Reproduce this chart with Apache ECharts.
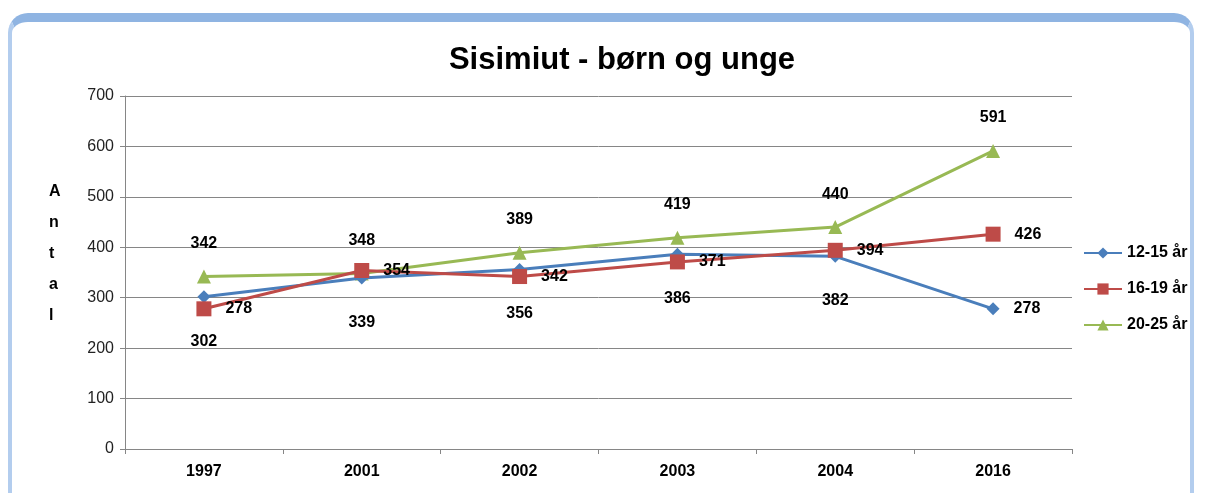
<!DOCTYPE html>
<html>
<head>
<meta charset="utf-8">
<script src="https://cdn.jsdelivr.net/npm/echarts@6/dist/echarts.min.js"></script>
<style>
    html, body { margin: 0; padding: 0; background: #ffffff; }
    #frame {
        position: absolute; left: 8px; top: 13px; width: 1186px; height: 480px;
        border-top: 9px solid #8fb4e2; border-left: 4px solid #b3cdee; border-right: 4px solid #b3cdee;
        border-radius: 20px 20px 0 0; background: #ffffff; box-sizing: border-box;
    }
    #char1 { position: absolute; left: 0; top: 0; width: 1208px; height: 493px; }
</style>
</head>
<body>
<div id="frame"></div>
<div id="char1"></div>
<script>
var years = ['1997', '2001', '2002', '2003', '2004', '2016'];
var age1215 = [302, 339, 356, 386, 382, 278];
var age1619 = [278, 354, 342, 371, 394, 426];
var age2025 = [342, 348, 389, 419, 440, 591];
var yTicks = [0, 700, 100];
var yName = 'A\nn\nt\na\nl';

char1();

//Sisimiut linjediagram
function char1() {

    var myChart = echarts.init(document.getElementById('char1'));

    var labelFont = {
        show: true,
        color: '#000',
        fontSize: 16,
        fontWeight: 'bold',
        fontFamily: 'Liberation Sans'
    };

    // sidste blå punkt har label til højre
    var blueData = age1215.map(function (v, i) {
        if (i === age1215.length - 1) {
            return {value: v, label: {position: 'right', distance: 14}};
        }
        return v;
    });

    var option = {
        animation: false,
        title: {
            text: 'Sisimiut - børn og unge',
            left: 617,
            textAlign: 'center',
            top: 40,
            textStyle: {
                fontSize: 31,
                fontWeight: 'bold',
                color: '#000',
                fontFamily: 'Liberation Sans'
            }
        },
        // lodret akse-titel, et bogstav pr. linje
        graphic: [{
            type: 'text',
            left: 49,
            top: 176,
            style: {
                text: yName,
                fill: '#000',
                font: 'bold 16px "Liberation Sans"',
                lineHeight: 31,
                align: 'center'
            }
        }],
        grid: {left: 125, right: 136, top: 96, bottom: 44},
        legend: {
            orient: 'vertical',
            left: 1078,
            top: 240,
            itemGap: 20,
            itemWidth: 38,
            itemHeight: 14,
            textStyle: {
                color: '#000',
                fontSize: 16,
                fontWeight: 'bold',
                fontFamily: 'Liberation Sans'
            },
            data: ['12-15 år', '16-19 år', '20-25 år']
        },
        xAxis: {
            type: 'category',
            data: years,
            boundaryGap: true,
            axisLine: {lineStyle: {color: '#868686', width: 1}},
            axisTick: {show: true, length: 5, lineStyle: {color: '#868686'}},
            axisLabel: {
                color: '#000',
                fontSize: 16,
                fontWeight: 'bold',
                fontFamily: 'Liberation Sans',
                margin: 15
            }
        },
        yAxis: {
            type: 'value',
            min: yTicks[0],
            max: yTicks[1],
            interval: yTicks[2],
            axisLine: {show: true, lineStyle: {color: '#868686'}},
            axisTick: {show: true, length: 5, lineStyle: {color: '#868686'}},
            axisLabel: {
                color: '#222',
                fontSize: 16,
                fontFamily: 'Liberation Sans',
                margin: 11
            },
            splitLine: {lineStyle: {color: '#868686', width: 1, type: 'solid'}}
        },
        series: [
            {
                name: '12-15 år',
                type: 'line',
                symbol: 'diamond',
                symbolSize: 13,
                data: blueData,
                lineStyle: {color: '#4a7ebb', width: 3},
                itemStyle: {color: '#4a7ebb'},
                label: Object.assign({}, labelFont, {position: 'bottom', distance: 30}),
                z: 3
            },
            {
                name: '16-19 år',
                type: 'line',
                symbol: 'rect',
                symbolSize: 15,
                data: age1619,
                lineStyle: {color: '#be4b48', width: 3},
                itemStyle: {color: '#be4b48'},
                label: Object.assign({}, labelFont, {position: 'right', distance: 14}),
                z: 4
            },
            {
                name: '20-25 år',
                type: 'line',
                symbol: 'triangle',
                symbolSize: 14,
                data: age2025,
                lineStyle: {color: '#98b954', width: 3},
                itemStyle: {color: '#98b954'},
                label: Object.assign({}, labelFont, {position: 'top', distance: 18}),
                z: 2
            }
        ]
    };

    myChart.setOption(option);
    window.addEventListener('resize', function () {
        myChart.resize();
    });

}
</script>
</body>
</html>
